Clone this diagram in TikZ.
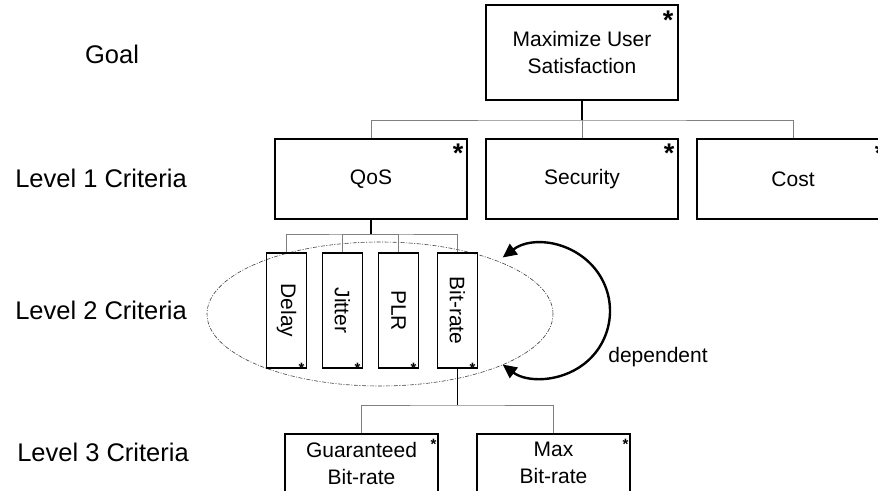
\documentclass[tikz,border=0pt]{standalone}
\usepackage{fontspec}
\setmainfont{Liberation Sans}
\usepackage{graphicx}
\usetikzlibrary{arrows.meta,shapes.geometric}

\tikzset{
  crit/.style={draw, line width=1.1pt, inner sep=0pt, align=center,
    font=\fontsize{21}{27}\selectfont},
  goalbox/.style={crit, minimum width=192pt, minimum height=95pt},
  lvlone/.style={crit, minimum width=192pt, minimum height=80pt},
  lvltwo/.style={crit, minimum width=40pt, minimum height=115pt},
  lvlthree/.style={crit, minimum width=153pt, minimum height=58pt},
  lvllabel/.style={inner sep=0pt, font=\fontsize{25.5}{30}\selectfont},
  bigstar/.style={inner sep=0pt, anchor=north east, font=\fontsize{27}{27}\selectfont\bfseries},
  smallstar/.style={inner sep=0pt, anchor=north east, font=\fontsize{15}{15}\selectfont\bfseries},
  trunk/.style={draw=black, line width=1.5pt},
  branch/.style={draw=gray, line width=0.9pt},
  group/.style={draw=black!75, ellipse, line width=0.6pt, inner sep=0pt,
    dash pattern=on 4pt off 1.5pt on 1pt off 1.5pt},
  dep/.style={line width=2.4pt, {Triangle[length=14pt,width=13pt]}-{Triangle[length=14pt,width=13pt]}}
}

\begin{document}
\begin{tikzpicture}[x=1pt,y=1pt]
  \useasboundingbox (0,0) rectangle (878,-490);

  % level names
  \node[lvllabel] (lgoal) at (112,-54) {Goal};
  \node[lvllabel] (lone) at (101,-178) {Level 1 Criteria};
  \node[lvllabel] (ltwo) at (101,-310) {Level 2 Criteria};
  \node[lvllabel] (lthree) at (103,-452) {Level 3 Criteria};

  % goal and level 1
  \node[goalbox] (goal) at (582,-52.5) {Maximize User\\Satisfaction};
  \node[lvlone] (qos) at (371,-179) {QoS};
  \node[lvlone] (security) at (582,-179) {Security};
  \node[lvlone] (cost) at (793,-179) {Cost};

  % level 2
  \node[group] (grp) at (380,-314) [minimum width=346pt, minimum height=144pt] {};
  \node[lvltwo] (delay) at (286.5,-310.5) {\rotatebox{-90}{Delay}};
  \node[lvltwo] (jitter) at (342.5,-310.5) {\rotatebox{-90}{Jitter}};
  \node[lvltwo] (plr) at (398.5,-310.5) {\rotatebox{-90}{PLR}};
  \node[lvltwo] (bitrate) at (457.5,-310.5) {\rotatebox{-90}{Bit-rate}};

  % level 3
  \node[lvlthree] (guaranteed) at (361.5,-463) {Guaranteed\\Bit-rate};
  \node[lvlthree] (maxrate) at (553.5,-463) {Max\\Bit-rate};

  % stars
  \node[bigstar] (sgoal) at ([shift={(-5,-6)}]goal.north east) {*};
  \node[bigstar] (sqos) at ([shift={(-4,-5)}]qos.north east) {*};
  \node[bigstar] (ssec) at ([shift={(-4,-5)}]security.north east) {*};
  \node[bigstar] (scost) at ([shift={(-4,-5)}]cost.north east) {*};
  \node[smallstar] (sdelay) at ([shift={(-2.5,6)}]delay.south east) {*};
  \node[smallstar] (sjitter) at ([shift={(-2.5,6)}]jitter.south east) {*};
  \node[smallstar] (splr) at ([shift={(-2.5,6)}]plr.south east) {*};
  \node[smallstar] (sbit) at ([shift={(-2.5,6)}]bitrate.south east) {*};
  \node[smallstar] (sguar) at ([shift={(-2,-6)}]guaranteed.north east) {*};
  \node[smallstar] (smax) at ([shift={(-2,-6)}]maxrate.north east) {*};

  % tree lines
  \coordinate (busone) at (582,-120);
  \coordinate (bustwo) at (371,-234);
  \coordinate (busthree) at (457.5,-405);
  \draw[trunk] (goal.south) -- (busone);
  \draw[branch] (qos.north) |- (busone) -| (cost.north);
  \draw[branch] (busone) -- (security.north);
  \draw[trunk] (qos.south) -- (bustwo);
  \draw[branch] (delay.north) |- (bustwo) -| (bitrate.north);
  \draw[branch] (jitter.north) |- (bustwo);
  \draw[branch] (plr.north) |- (bustwo);
  \draw[trunk] (bitrate.south) -- (busthree);
  \draw[branch] (guaranteed.north) |- (busthree) -| (maxrate.north);

  % dependency loop
  \coordinate (loopc) at (543,-311);
  \draw[dep] ([shift={(127:67)}]loopc) arc[start angle=127, end angle=-127, radius=67];
  \node[inner sep=0pt, font=\fontsize{21}{25}\selectfont] (deptext) at (658,-357) {dependent};
\end{tikzpicture}
\end{document}
